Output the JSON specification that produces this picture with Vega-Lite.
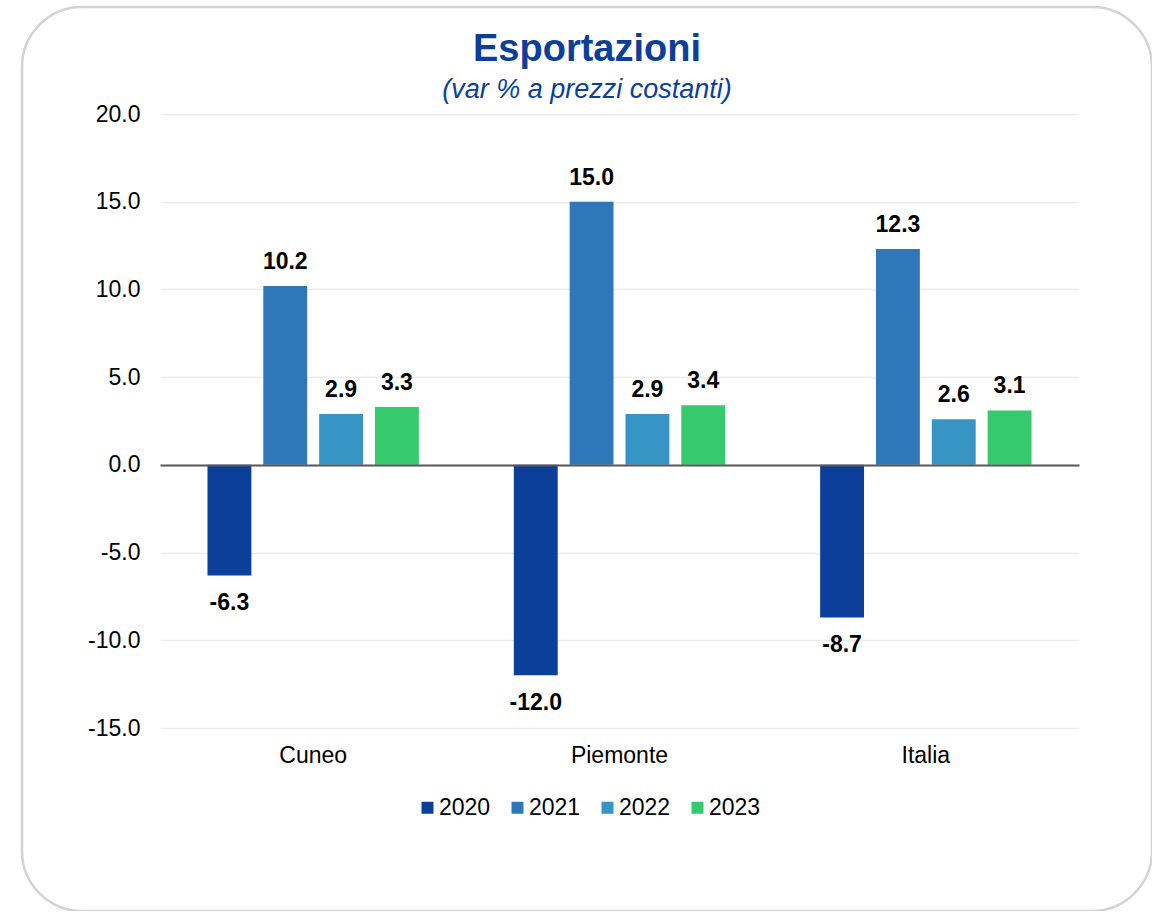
{
  "$schema": "https://vega.github.io/schema/vega-lite/v6.json",
  "width": 1130,
  "height": 904,
  "autosize": {"type": "none"},
  "padding": {"left": 22, "top": 7, "right": 0, "bottom": 0},
  "background": "white",
  "config": {
    "view": {"stroke": "#D3D3D3", "strokeWidth": 2.5, "cornerRadius": 60},
    "font": "Liberation Sans",
    "locale": {
      "number": {
        "decimal": ".",
        "thousands": ",",
        "grouping": [3],
        "currency": ["$", ""],
        "minus": "-"
      }
    }
  },
  "title": {
    "text": "Esportazioni",
    "subtitle": "(var % a prezzi costanti)",
    "anchor": "middle",
    "frame": "group",
    "offset": -96,
    "font": "Liberation Sans",
    "fontSize": 38,
    "fontWeight": "bold",
    "color": "#0B3F99",
    "subtitleFont": "Liberation Sans",
    "subtitleFontSize": 27,
    "subtitleFontStyle": "italic",
    "subtitleColor": "#0B3F99",
    "subtitlePadding": 8
  },
  "data": {
    "values": [
      {"Region": "Cuneo", "Year": "2020", "Value": -6.3},
      {"Region": "Cuneo", "Year": "2021", "Value": 10.2},
      {"Region": "Cuneo", "Year": "2022", "Value": 2.9},
      {"Region": "Cuneo", "Year": "2023", "Value": 3.3},
      {"Region": "Piemonte", "Year": "2020", "Value": -12.0},
      {"Region": "Piemonte", "Year": "2021", "Value": 15.0},
      {"Region": "Piemonte", "Year": "2022", "Value": 2.9},
      {"Region": "Piemonte", "Year": "2023", "Value": 3.4},
      {"Region": "Italia", "Year": "2020", "Value": -8.7},
      {"Region": "Italia", "Year": "2021", "Value": 12.3},
      {"Region": "Italia", "Year": "2022", "Value": 2.6},
      {"Region": "Italia", "Year": "2023", "Value": 3.1}
    ]
  },
  "encoding": {
    "x": {
      "field": "Region",
      "type": "nominal",
      "sort": ["Cuneo", "Piemonte", "Italia"],
      "scale": {"range": [138, 1057], "paddingInner": 0.31, "paddingOuter": 0.155},
      "axis": {
        "title": null,
        "orient": "bottom",
        "offset": -446,
        "domain": true,
        "domainColor": "#595959",
        "domainWidth": 2,
        "ticks": false,
        "grid": false,
        "labelAngle": 0,
        "labelFont": "Liberation Sans",
        "labelFontSize": 23,
        "labelColor": "#000000",
        "labelPadding": 279,
        "zindex": 1
      }
    },
    "xOffset": {
      "field": "Year",
      "type": "nominal",
      "scale": {"paddingInner": 0.214, "paddingOuter": 0}
    },
    "y": {
      "field": "Value",
      "type": "quantitative",
      "scale": {"domain": [-15, 20], "range": [721, 107], "nice": false, "zero": false},
      "axis": {
        "title": null,
        "orient": "left",
        "offset": -138,
        "values": [-15, -10, -5, 0, 5, 10, 15, 20],
        "format": ".1f",
        "domain": false,
        "ticks": false,
        "grid": true,
        "gridColor": "#EBEBEB",
        "gridWidth": 1.5,
        "labelFont": "Liberation Sans",
        "labelFontSize": 23,
        "labelColor": "#000000",
        "labelPadding": 20
      }
    }
  },
  "layer": [
    {
      "mark": {"type": "bar"},
      "encoding": {
        "color": {
          "field": "Year",
          "type": "nominal",
          "scale": {
            "domain": ["2020", "2021", "2022", "2023"],
            "range": ["#0B3F99", "#2E78BA", "#3795C5", "#35CA6E"]
          },
          "legend": {
            "title": null,
            "orient": "none",
            "direction": "horizontal",
            "legendX": 394,
            "legendY": 789,
            "symbolType": "square",
            "symbolSize": 144,
            "symbolStrokeWidth": 0,
            "labelFont": "Liberation Sans",
            "labelFontSize": 23,
            "labelColor": "#000000",
            "labelOffset": 0,
            "columnPadding": 15
          }
        }
      }
    },
    {
      "transform": [{"filter": "datum.Value >= 0"}],
      "mark": {"type": "text", "baseline": "alphabetic", "dy": -17, "fontSize": 23, "fontWeight": "bold", "font": "Liberation Sans", "color": "#000000"},
      "encoding": {"text": {"field": "Value", "type": "quantitative", "format": ".1f"}}
    },
    {
      "transform": [{"filter": "datum.Value < 0"}],
      "mark": {"type": "text", "baseline": "alphabetic", "dy": 35, "fontSize": 23, "fontWeight": "bold", "font": "Liberation Sans", "color": "#000000"},
      "encoding": {"text": {"field": "Value", "type": "quantitative", "format": ".1f"}}
    }
  ]
}
